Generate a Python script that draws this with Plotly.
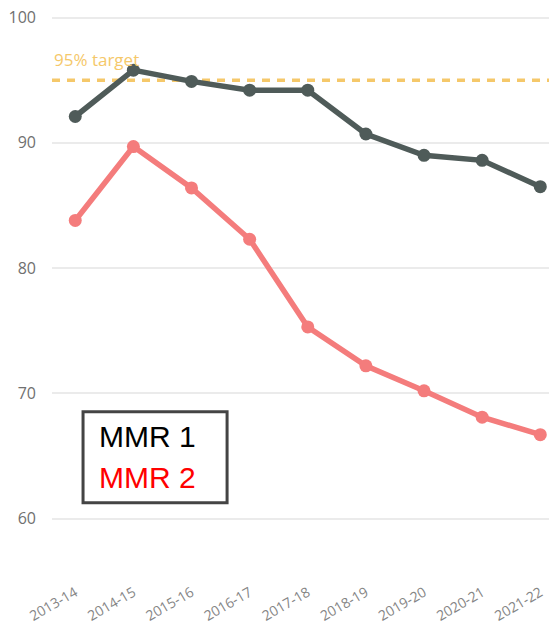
import plotly.graph_objects as go

seasons = ["2013-14", "2014-15", "2015-16", "2016-17", "2017-18",
           "2018-19", "2019-20", "2020-21", "2021-22"]
mmr1 = [92.1, 95.8, 94.9, 94.2, 94.2, 90.7, 89.0, 88.6, 86.5]
mmr2 = [83.8, 89.7, 86.4, 82.3, 75.3, 72.2, 70.2, 68.1, 66.7]
target = 95
y_ticks = [60, 70, 80, 90, 100]

x_idx = list(range(len(seasons)))
x_lo, x_hi = -0.4, len(seasons) - 0.85

fig = go.Figure()

# 95% target reference line
fig.add_trace(go.Scatter(
    x=[x_lo, x_hi], y=[target, target], mode="lines",
    line=dict(color="#F5C86A", width=3.5, dash="8px,7px"),
    hoverinfo="skip", showlegend=False,
))

fig.add_trace(go.Scatter(
    x=x_idx, y=mmr1, mode="lines+markers", name="MMR 1",
    line=dict(color="#4F5B59", width=5.5),
    marker=dict(color="#4F5B59", size=13),
    showlegend=False,
))
fig.add_trace(go.Scatter(
    x=x_idx, y=mmr2, mode="lines+markers", name="MMR 2",
    line=dict(color="#F47C7C", width=5.5),
    marker=dict(color="#F47C7C", size=13),
    showlegend=False,
))

fig.add_annotation(
    x=x_lo, y=target, xref="x", yref="y", xanchor="left", yanchor="bottom",
    text="95% target", showarrow=False, yshift=7,
    font=dict(family="Open Sans, DejaVu Sans", size=17, color="#F5C86A"),
)

# Boxed legend with coloured labels
fig.add_shape(
    type="rect", xref="x", yref="y",
    x0=0.134, x1=2.612, y0=61.27, y1=68.53,
    line=dict(color="#444444", width=3), fillcolor="#FFFFFF", layer="above",
)
fig.add_annotation(
    x=0.375, y=66.53, xref="x", yref="y", xanchor="left", yanchor="middle",
    text="MMR 1", showarrow=False,
    font=dict(family="Liberation Sans, Arial", size=30, color="#000000"),
)
fig.add_annotation(
    x=0.375, y=63.3, xref="x", yref="y", xanchor="left", yanchor="middle",
    text="MMR 2", showarrow=False,
    font=dict(family="Liberation Sans, Arial", size=30, color="#FF0000"),
)

fig.update_layout(
    width=549, height=630,
    margin=dict(l=52, r=0, t=10, b=55),
    paper_bgcolor="white", plot_bgcolor="white",
    xaxis=dict(
        tickmode="array", tickvals=x_idx, ticktext=seasons,
        range=[x_lo, x_hi],
        tickangle=-30, showgrid=False, zeroline=False, showline=False,
        ticklabelstandoff=6,
        tickfont=dict(family="Open Sans, DejaVu Sans", size=14, color="#858585"),
    ),
    yaxis=dict(
        tickmode="array", tickvals=y_ticks,
        range=[55.5, 100.6],
        showgrid=True, gridcolor="#EBEBEB", gridwidth=1.5,
        zeroline=False, showline=False, ticklabelstandoff=15,
        tickfont=dict(family="Open Sans, DejaVu Sans", size=16, color="#707070"),
    ),
)

fig.write_html("out.html")
